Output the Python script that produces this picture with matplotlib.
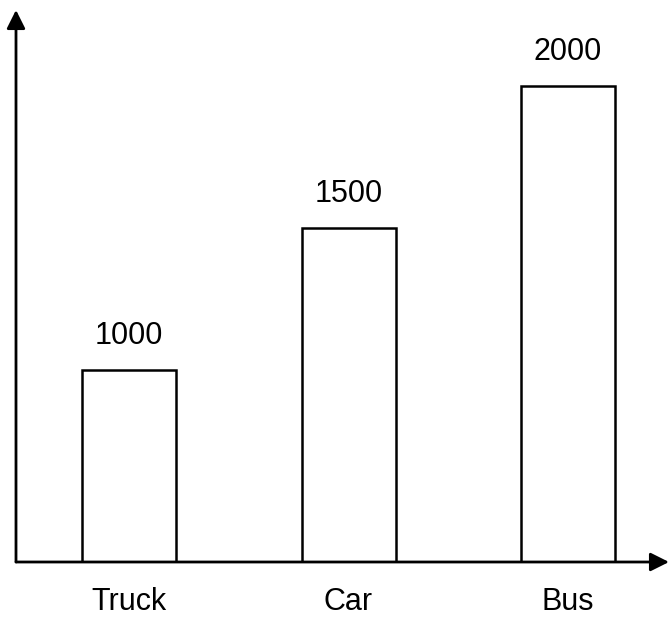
import matplotlib
matplotlib.use("Agg")
import matplotlib.pyplot as plt

categories = ["Truck", "Car", "Bus"]
values = [1000, 1500, 2000]

plt.rcParams['font.family'] = ['Liberation Sans', 'DejaVu Sans']

fig = plt.figure(figsize=(6.69, 6.20), dpi=100)
W, H = 669, 620
left, bottom = 16 / W, (H - 562) / H
ax = fig.add_axes([left, bottom, (W - 16) / W, (562 - 10) / H])

x = list(range(len(categories)))
ax.bar(x, values, width=0.428, color='white', edgecolor='black', linewidth=1.8, zorder=2)
ax.set_xlim(-0.515, 2.46)
ax.set_ylim(324, 2268)

for xi, v in zip(x, values):
    ax.annotate(str(v), (xi, v), xytext=(0, 14), textcoords='offset points',
                ha='center', va='bottom', fontsize=22)

for s in ax.spines.values():
    s.set_visible(False)
ax.set_xticks(x)
ax.set_xticklabels(categories, fontsize=22)
ax.tick_params(axis='x', length=0, pad=18)
ax.set_yticks([])

arrow = dict(arrowstyle='-|>', color='black', lw=2, mutation_scale=28, shrinkA=0, shrinkB=0)
ax.annotate('', xy=(0, 1.0), xytext=(0, 0), xycoords='axes fraction', textcoords='axes fraction',
            arrowprops=arrow, annotation_clip=False)
ax.annotate('', xy=(1.0, 0), xytext=(0, 0), xycoords='axes fraction', textcoords='axes fraction',
            arrowprops=arrow, annotation_clip=False)

fig.savefig("out.png", dpi=100)
